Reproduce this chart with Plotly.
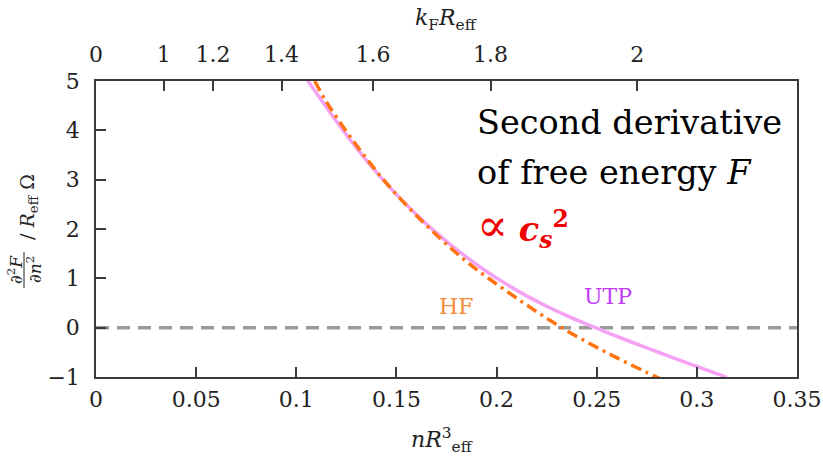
import numpy as np
import plotly.graph_objects as go

# Density n R_eff^3 and second derivative of free energy for each approximation
n_utp = [0.1055, 0.115, 0.125, 0.135, 0.145, 0.155, 0.165, 0.175, 0.185, 0.195,
         0.205, 0.215, 0.225, 0.235, 0.245, 0.255, 0.265, 0.275, 0.285, 0.295,
         0.305, 0.315]
d2f_utp = [5.02, 4.47, 3.91, 3.39, 2.92, 2.49, 2.10, 1.75, 1.43, 1.14,
           0.88, 0.645, 0.435, 0.245, 0.07, -0.095, -0.255, -0.41, -0.562, -0.712,
           -0.86, -1.006]

n_hf = [0.1092, 0.115, 0.125, 0.135, 0.145, 0.155, 0.165, 0.175, 0.185, 0.195,
        0.205, 0.215, 0.225, 0.235, 0.245, 0.255, 0.265, 0.275, 0.2816]
d2f_hf = [5.0, 4.58, 3.98, 3.43, 2.93, 2.48, 2.07, 1.69, 1.34, 1.03,
          0.74, 0.46, 0.19, -0.06, -0.29, -0.505, -0.71, -0.908, -1.03]

x_ticks = [0, 0.05, 0.1, 0.15, 0.2, 0.25, 0.3, 0.35]
y_ticks = [-1, 0, 1, 2, 3, 4, 5]
kf_ticks = [0, 1, 1.2, 1.4, 1.6, 1.8, 2]

# k_F R = (3 pi^2 n R^3)^(1/3)  ->  n R^3 = (k_F R)^3 / (3 pi^2)
kf_pos = [k ** 3 / (3 * np.pi ** 2) for k in kf_ticks]

W, H = 823, 456
L, R, T, B = 96, 26, 81, 79
pw, ph = W - L - R, H - T - B


def px(x):
    return (x - L) / pw


def py(y):
    return (H - B - y) / ph


SERIF = "DejaVu Serif"
AX = "#3a3a3a"

fig = go.Figure()

fig.add_shape(type="line", xref="paper", yref="y", x0=0, x1=1, y0=0, y1=0,
              line=dict(color="#9a9a9a", width=3.5, dash="13px,8px"), layer="below")

fig.add_trace(go.Scatter(x=n_utp, y=d2f_utp, mode="lines", name="UTP",
                         line=dict(color="#F6A2F4", width=3.5, shape="spline"),
                         showlegend=False))
fig.add_trace(go.Scatter(x=n_hf, y=d2f_hf, mode="lines", name="HF",
                         line=dict(color="#FF7410", width=3.5, shape="spline",
                                   dash="11px,5px,3px,5px"),
                         showlegend=False))
# invisible trace to activate top axis
fig.add_trace(go.Scatter(x=[0, 0.35], y=[None, None], xaxis="x2", showlegend=False,
                         hoverinfo="skip"))

tickfont = dict(family=SERIF, size=22, color="#222")

fig.update_layout(
    width=W, height=H,
    margin=dict(l=L, r=R, t=T, b=B, autoexpand=False),
    paper_bgcolor="white", plot_bgcolor="white",
    font=dict(family=SERIF, size=22, color="#222"),
    xaxis=dict(range=[0, 0.35], tickvals=x_ticks, automargin=False,
               ticktext=[f"{v:g}" for v in x_ticks], tickfont=tickfont,
               showgrid=False, zeroline=False, showline=True, linecolor=AX,
               linewidth=1.5, mirror=True, ticks="inside", ticklen=10,
               tickwidth=1.5, tickcolor=AX, ticklabelstandoff=2),
    xaxis2=dict(range=[0, 0.35], overlaying="x", side="top", anchor="y",
                tickvals=kf_pos, ticktext=[f"{v:g}" for v in kf_ticks],
                tickfont=tickfont, automargin=False,
                showgrid=False, zeroline=False, showline=False,
                ticks="inside", ticklen=10, tickwidth=1.5, tickcolor=AX,
                ticklabelstandoff=14),
    yaxis=dict(range=[-1, 5], tickvals=y_ticks, tickfont=tickfont, automargin=False,
               showgrid=False, zeroline=False, showline=True, linecolor=AX,
               linewidth=1.5, mirror=True, ticks="inside", ticklen=10,
               tickwidth=1.5, tickcolor=AX, ticklabelstandoff=10),
)

ann = [
    # axis titles
    dict(x=px(442), y=py(440), text="<i>nR</i><sup>3</sup><sub>eff</sub>",
         font=dict(size=22)),
    dict(x=px(446), y=py(20), text="<i>k</i><sub>F</sub><i>R</i><sub>eff</sub>",
         font=dict(size=22)),
    dict(x=px(28), y=py(207), text="/ <i>R</i><sub>eff</sub> Ω", textangle=-90,
         font=dict(size=19)),
    dict(x=px(15), y=py(270), text="∂<sup>2</sup><i>F</i>", textangle=-90,
         font=dict(size=17)),
    dict(x=px(34), y=py(270), text="∂<i>n</i><sup>2</sup>", textangle=-90,
         font=dict(size=17)),
    # curve labels
    dict(x=px(456), y=py(306), text="HF", font=dict(size=22, color="#F58A3A")),
    dict(x=px(608), y=py(296), text="UTP", font=dict(size=22, color="#C23CF5")),
    # description
    dict(x=px(475), y=py(122), xanchor="left", text="Second derivative",
         font=dict(size=33.5, color="black")),
    dict(x=px(475), y=py(172), xanchor="left", text="of free energy <i>F</i>",
         font=dict(size=33.5, color="black")),
    dict(x=px(475), y=py(226), xanchor="left",
         text="<span style='font-size:46px'>∝</span> <b><i>c<sub>s</sub></i><sup>2</sup></b>",
         font=dict(size=33.5, color="#F00000")),
]
for a in ann:
    a.setdefault("xref", "paper")
    a.setdefault("yref", "paper")
    a.setdefault("xanchor", "center")
    a.setdefault("yanchor", "middle")
    a.setdefault("showarrow", False)
fig.update_layout(annotations=ann)

# fraction bar of the y-axis title
fig.add_shape(type="line", xref="paper", yref="paper",
              x0=px(24), x1=px(24), y0=py(252), y1=py(288),
              line=dict(color="#222", width=1))

fig.write_html("out.html")
